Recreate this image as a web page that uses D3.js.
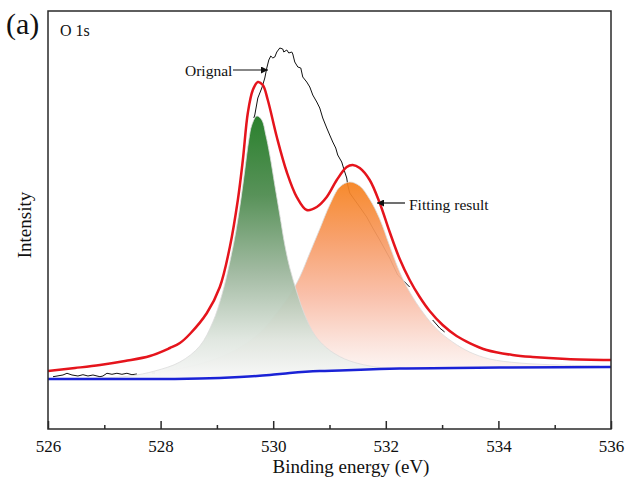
<!DOCTYPE html>
<html>
<head>
<meta charset="utf-8">
<script src="https://cdn.jsdelivr.net/npm/d3@7"></script>
<style>
  html, body { margin: 0; padding: 0; background: #fff; }
  svg { display: block; }
  text { font-family: "Liberation Serif", "Times New Roman", serif; fill: #111; }
</style>
</head>
<body>
<svg id="chart" width="628" height="481"></svg>
<script>
// O 1s XPS spectrum: binding energy (eV) vs intensity (a.u.)
const energyDomain = [526, 536];
const intensityDomain = [0, 100];
const majorTicks = [526, 528, 530, 532, 534, 536];
const minorTicks = [527, 529, 531, 533, 535];

// Measured spectrum (visible stretches)
const originalBaseline = [
  [526.089, 12.51], [526.266, 12.92], [526.337, 13.33], [526.426, 12.92], [526.532, 12.68],
  [526.621, 12.99], [526.710, 12.68], [526.799, 12.92], [526.923, 12.51], [526.976, 12.68],
  [527.047, 13.33], [527.136, 13.09], [527.224, 13.33], [527.313, 13.09], [527.402, 13.33],
  [527.491, 12.99], [527.579, 13.16]
];
const originalSpeck = [[527.845, 13.40], [527.900, 13.40]];
const originalMain = [
  [529.656, 74.40], [529.673, 75.12], [529.727, 79.19], [529.798, 81.58], [529.851, 83.97],
  [529.886, 86.36], [529.922, 88.28], [529.957, 89.23], [529.993, 88.76], [530.028, 88.99],
  [530.064, 90.19], [530.117, 91.15], [530.170, 90.91], [530.188, 90.19], [530.241, 90.67],
  [530.277, 89.95], [530.330, 90.19], [530.348, 89.71], [530.383, 87.80], [530.437, 86.60],
  [530.490, 86.36], [530.525, 84.21], [530.596, 83.01], [530.650, 81.82], [530.703, 79.90],
  [530.774, 78.23], [530.827, 76.79], [530.880, 74.40], [530.951, 72.01], [531.004, 70.33],
  [531.058, 68.66], [531.111, 67.22], [531.146, 65.55], [531.217, 63.88], [531.271, 61.48],
  [531.306, 60.05], [531.324, 58.37], [531.359, 56.46], [531.448, 54.78], [531.537, 53.11],
  [531.661, 50.72], [531.768, 48.09], [531.892, 45.22], [532.069, 40.91], [532.211, 36.84],
  [532.318, 35.41], [532.424, 33.97]
];
const originalTail = [
  [532.832, 26.08], [532.957, 24.16], [533.045, 23.21]
];

// Envelope of the fit
const fittingResult = [
  [526.000, 13.88], [526.479, 14.59], [526.923, 15.31], [527.367, 16.27], [527.810, 17.46],
  [528.165, 19.38], [528.343, 20.57], [528.520, 22.73], [528.822, 27.75], [529.052, 33.97],
  [529.230, 43.54], [529.372, 54.78], [529.461, 64.35], [529.549, 75.60], [529.638, 81.10],
  [529.727, 83.01], [529.815, 82.30], [529.904, 78.71], [530.064, 69.86], [530.241, 61.48],
  [530.419, 55.50], [530.596, 52.39], [530.774, 53.11], [530.951, 55.50], [531.129, 59.57],
  [531.306, 62.68], [531.413, 63.16], [531.537, 62.44], [531.714, 59.57], [531.892, 54.07],
  [532.069, 47.13], [532.247, 40.67], [532.424, 35.65], [532.602, 31.58], [532.779, 28.23],
  [533.010, 24.88], [533.258, 22.25], [533.489, 20.57], [533.791, 18.90], [534.252, 17.70],
  [534.607, 17.22], [535.210, 16.75], [536.000, 16.51]
];

// Shirley-type background
const background = [
  [526.000, 11.96], [527.810, 11.96], [528.697, 12.08], [529.407, 12.44], [529.940, 12.92],
  [530.295, 13.40], [530.827, 13.88], [531.182, 14.00], [531.892, 14.35], [532.247, 14.47],
  [534.022, 14.71], [536.000, 14.83]
];

// Component at ~529.7 eV
const peakLattice = [
  [526.213, 11.96], [526.923, 12.20], [527.455, 12.68], [527.899, 13.88], [528.343, 16.03],
  [528.697, 19.86], [528.928, 25.60], [529.088, 32.06], [529.230, 39.95], [529.336, 47.13],
  [529.425, 54.78], [529.496, 61.96], [529.567, 69.14], [529.620, 72.73], [529.709, 74.88],
  [529.798, 73.92], [529.869, 70.33], [529.940, 65.55], [530.028, 58.37], [530.117, 51.20],
  [530.206, 44.02], [530.295, 38.52], [530.419, 32.78], [530.561, 27.27], [530.738, 22.49],
  [530.951, 19.38], [531.271, 16.75], [531.714, 15.07], [532.247, 14.35], [533.134, 14.11]
];

// Component at ~531.4 eV
const peakSurface = [
  [527.988, 13.64], [528.697, 15.55], [529.230, 18.18], [529.532, 20.57], [529.815, 23.68],
  [530.064, 27.75], [530.295, 32.06], [530.472, 36.36], [530.650, 42.11], [530.827, 47.85],
  [531.004, 53.59], [531.182, 57.89], [531.359, 59.09], [531.537, 58.13], [531.714, 54.98],
  [531.892, 50.24], [532.069, 43.78], [532.247, 37.56], [532.424, 32.78], [532.655, 27.99],
  [532.903, 23.92], [533.187, 20.81], [533.489, 18.42], [533.844, 16.75], [534.376, 15.79],
  [535.086, 15.31], [535.796, 15.07]
];

const svg = d3.select("#chart");
const W = 628, H = 481;
const margin = { left: 48, right: 17, top: 11, bottom: 52 };
const plotW = W - margin.left - margin.right;
const plotH = H - margin.top - margin.bottom;

const x = d3.scaleLinear().domain(energyDomain).range([margin.left, margin.left + plotW]);
const y = d3.scaleLinear().domain(intensityDomain).range([margin.top + plotH, margin.top]);

svg.append("rect").attr("width", W).attr("height", H).attr("fill", "#fff");

const defs = svg.append("defs");

// Region above the background curve, used to trim the component fills
defs.append("clipPath").attr("id", "aboveBg")
  .append("path")
  .attr("d", d3.area()
    .x(d => x(d[0]))
    .y0(margin.top)
    .y1(d => y(d[1]))
    .curve(d3.curveMonotoneX)(background));

defs.append("clipPath").attr("id", "plotClip")
  .append("rect")
  .attr("x", margin.left).attr("y", margin.top)
  .attr("width", plotW).attr("height", plotH);

function addGradient(id, data, stops) {
  const g = defs.append("linearGradient")
    .attr("id", id)
    .attr("gradientUnits", "userSpaceOnUse")
    .attr("x1", 0).attr("x2", 0)
    .attr("y1", y(d3.max(data, d => d[1])))
    .attr("y2", y(d3.min(data, d => d[1])));
  stops.forEach(s => g.append("stop").attr("offset", s[0]).attr("stop-color", s[1]));
}
addGradient("gradGreen", peakLattice, [
  [0, "#1f7a22"], [0.3, "#4f8c50"], [0.6, "#9fb89f"], [0.85, "#dfe6df"], [1, "#f8f8f8"]
]);
addGradient("gradOrange", peakSurface, [
  [0, "#f6811c"], [0.3, "#f79a62"], [0.6, "#f9bca5"], [0.85, "#fbe2da"], [1, "#fdf6f4"]
]);

const plot = svg.append("g").attr("clip-path", "url(#plotClip)");

const smoothLine = d3.line().x(d => x(d[0])).y(d => y(d[1])).curve(d3.curveCatmullRom.alpha(0.5));
const rawLine = d3.line().x(d => x(d[0])).y(d => y(d[1]));

// measured spectrum
[originalBaseline, originalSpeck, originalMain, originalTail].forEach(seg => {
  plot.append("path")
    .attr("d", rawLine(seg))
    .attr("fill", "none")
    .attr("stroke", "#111")
    .attr("stroke-width", 1)
    .attr("stroke-linejoin", "round");
});

// fitted components
const peakArea = d3.area()
  .x(d => x(d[0]))
  .y0(margin.top + plotH)
  .y1(d => y(d[1]))
  .curve(d3.curveCatmullRom.alpha(0.5));

const fills = plot.append("g").attr("clip-path", "url(#aboveBg)");
fills.append("path")
  .attr("d", peakArea(peakSurface))
  .attr("fill", "url(#gradOrange)")
  .attr("fill-opacity", 0.93)
  .attr("stroke", "#dcdcdc")
  .attr("stroke-width", 0.8);
fills.append("path")
  .attr("d", peakArea(peakLattice))
  .attr("fill", "url(#gradGreen)")
  .attr("fill-opacity", 0.95)
  .attr("stroke", "#dcdcdc")
  .attr("stroke-width", 0.8);

// background
plot.append("path")
  .attr("d", d3.line().x(d => x(d[0])).y(d => y(d[1])).curve(d3.curveMonotoneX)(background))
  .attr("fill", "none")
  .attr("stroke", "#1a22d6")
  .attr("stroke-width", 2.5);

// envelope
plot.append("path")
  .attr("d", smoothLine(fittingResult))
  .attr("fill", "none")
  .attr("stroke", "#e5141c")
  .attr("stroke-width", 2.5)
  .attr("stroke-linejoin", "round");

// frame
svg.append("rect")
  .attr("x", margin.left).attr("y", margin.top)
  .attr("width", plotW).attr("height", plotH)
  .attr("fill", "none")
  .attr("stroke", "#2a2a2a")
  .attr("stroke-width", 1.5);

// bottom axis, ticks pointing inward
const axisMajor = d3.axisBottom(x)
  .tickValues(majorTicks)
  .tickFormat(d3.format("d"))
  .tickSizeInner(-8)
  .tickSizeOuter(0)
  .tickPadding(11);
const gMajor = svg.append("g")
  .attr("transform", `translate(0,${margin.top + plotH})`)
  .call(axisMajor);
gMajor.select(".domain").remove();
gMajor.selectAll(".tick line").attr("stroke", "#2a2a2a").attr("stroke-width", 1.5);
gMajor.selectAll(".tick text")
  .attr("font-family", "Liberation Serif, Times New Roman, serif")
  .attr("font-size", 17)
  .attr("fill", "#111");

const axisMinor = d3.axisBottom(x)
  .tickValues(minorTicks)
  .tickFormat("")
  .tickSizeInner(-4)
  .tickSizeOuter(0);
const gMinor = svg.append("g")
  .attr("transform", `translate(0,${margin.top + plotH})`)
  .call(axisMinor);
gMinor.select(".domain").remove();
gMinor.selectAll(".tick line").attr("stroke", "#2a2a2a").attr("stroke-width", 1.5);

// axis titles
svg.append("text")
  .attr("x", 351).attr("y", 473)
  .attr("text-anchor", "middle")
  .attr("font-size", 19)
  .text("Binding energy (eV)");

svg.append("text")
  .attr("transform", "translate(31,225) rotate(-90)")
  .attr("text-anchor", "middle")
  .attr("font-size", 19)
  .text("Intensity");

// panel label and region
svg.append("text").attr("x", 6).attr("y", 34).attr("font-size", 30).text("(a)");
svg.append("text").attr("x", 60).attr("y", 36).attr("font-size", 16).text("O 1s");

// annotations with arrows
defs.append("marker")
  .attr("id", "arrowHead")
  .attr("viewBox", "0 0 10 10")
  .attr("refX", 10).attr("refY", 5)
  .attr("markerWidth", 9).attr("markerHeight", 7)
  .attr("markerUnits", "userSpaceOnUse")
  .attr("orient", "auto")
  .append("path").attr("d", "M0,0 L10,5 L0,10 Z").attr("fill", "#111");

svg.append("text").attr("x", 185).attr("y", 76).attr("font-size", 15.5).text("Orignal");
svg.append("line")
  .attr("x1", 233).attr("y1", 70).attr("x2", 268).attr("y2", 70)
  .attr("stroke", "#111").attr("stroke-width", 1.2)
  .attr("marker-end", "url(#arrowHead)");

svg.append("text").attr("x", 409).attr("y", 210).attr("font-size", 15.5).text("Fitting result");
svg.append("line")
  .attr("x1", 405).attr("y1", 203).attr("x2", 377).attr("y2", 203)
  .attr("stroke", "#111").attr("stroke-width", 1.2)
  .attr("marker-end", "url(#arrowHead)");
</script>
</body>
</html>
